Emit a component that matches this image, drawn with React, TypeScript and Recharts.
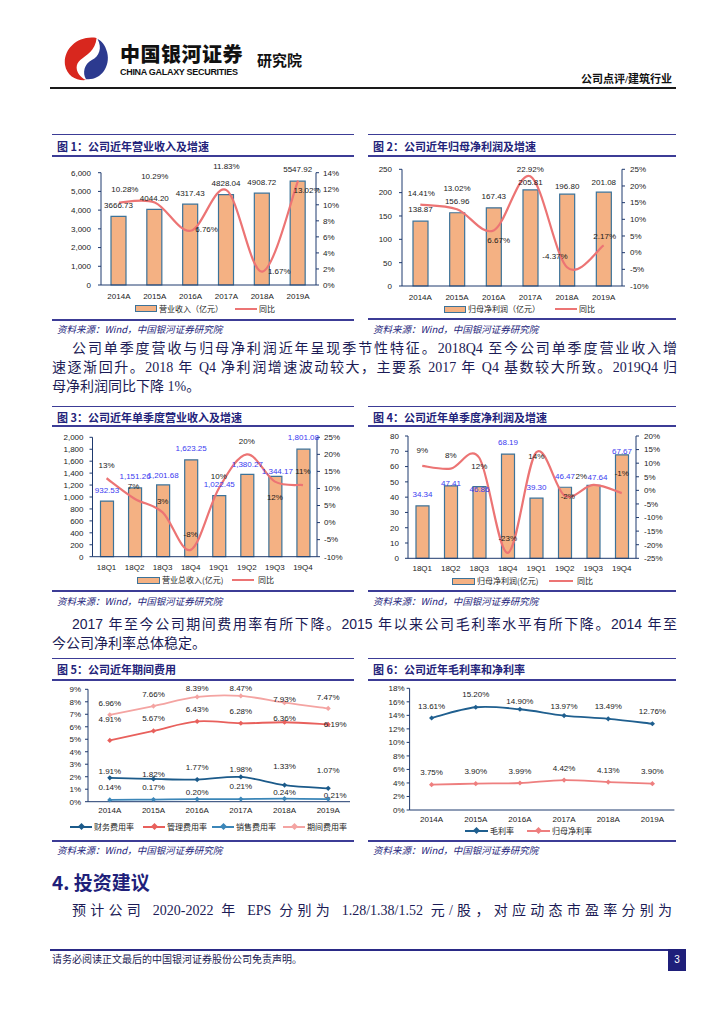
import React from 'react';
import { ComposedChart, LineChart, Bar, Line, XAxis, YAxis } from 'recharts';

// ---------- data ----------
const years = ['2014A', '2015A', '2016A', '2017A', '2018A', '2019A'];
const quarters = ['18Q1', '18Q2', '18Q3', '18Q4', '19Q1', '19Q2', '19Q3', '19Q4'];

const revenue = [3666.73, 4044.2, 4317.43, 4828.04, 4908.72, 5547.92];
const revenueYoy = [10.28, 10.29, 6.76, 11.83, 1.67, 13.02];
const netProfit = [138.87, 156.96, 167.43, 205.81, 196.8, 201.08];
const netProfitYoy = [14.41, 13.02, 6.67, 22.92, -4.37, 2.17];
const qRevenue = [932.53, 1151.26, 1201.68, 1623.25, 1022.45, 1380.27, 1344.17, 1801.08];
const qRevenueYoy = [13, 7, 3, -8, 10, 20, 12, 11];
const qProfit = [34.34, 47.41, 46.86, 68.19, 39.3, 46.47, 47.64, 67.67];
const qProfitYoy = [9, 8, 12, -23, 14, -2, 2, -1];
const finRate = [1.91, 1.82, 1.77, 1.98, 1.33, 1.07];
const adminRate = [4.91, 5.67, 6.43, 6.28, 6.36, 6.19];
const salesRate = [0.14, 0.17, 0.2, 0.21, 0.24, 0.21];
const periodRate = [6.96, 7.66, 8.39, 8.47, 7.93, 7.47];
const grossMargin = [13.61, 15.2, 14.9, 13.97, 13.49, 12.76];
const netMargin = [3.75, 3.9, 3.99, 4.42, 4.13, 3.9];

const ticks1L = [0, 1000, 2000, 3000, 4000, 5000, 6000];
const ticks1R = [0, 2, 4, 6, 8, 10, 12, 14];
const ticks2L = [0, 50, 100, 150, 200, 250];
const ticks2R = [-10, -5, 0, 5, 10, 15, 20, 25];
const ticks3L = [0, 200, 400, 600, 800, 1000, 1200, 1400, 1600, 1800, 2000];
const ticks3R = [-10, -5, 0, 5, 10, 15, 20, 25];
const ticks4L = [0, 10, 20, 30, 40, 50, 60, 70, 80];
const ticks4R = [-25, -20, -15, -10, -5, 0, 5, 10, 15, 20];
const ticks5 = [0, 1, 2, 3, 4, 5, 6, 7, 8, 9];
const ticks6 = [0, 2, 4, 6, 8, 10, 12, 14, 16, 18];

// ---------- label placement (styling) ----------
const off1Bar = [[0, -11], [0, -11], [0, -11], [0, -11], [0, -11], [0, -11.5]];
const off1Line = [[6, -13], [0, -26.5], [16, -2], [0, -24], [17, 0], [9, 10]];
const off2Bar = [[0, -11.5], [0, -11.5], [0, -11.5], [0, -8], [0, -7.5], [0, -10]];
const off2Line = [[1, -11], [0, -21], [5, 10], [0, -7], [-12, -11], [1, -9.5]];
const off3Bar = [[0, -11], [0, -11.5], [0, -10], [0, -11.5], [0, -11.5], [0, -10], [2, -5], [0, -11.5]];
const off3Line = [[0, -13], [-1, -12.5], [0, -11.5], [0, -15.5], [0, -12.5], [0, -13.5], [0, 16], [0, -13.5]];
const off4Bar = [[0, -11.5], [0, -3], [0, 2.5], [0, -11.5], [0, -11.5], [0, -11.5], [4, -8], [0, -4]];
const off4Line = [[0, -16], [0, -13], [0, 8], [0, -14.5], [0, 4], [3, 0], [-12, -9], [0, -20]];
const off5Period = [[0, -11.5], [0, -11.5], [0, -8.5], [0, -7.5], [0, -3.5], [0, -11.5]];
const off5Admin = [[0, -21], [0, -12.5], [0, -12], [0, -12], [0, -4], [7, 0]];
const off5Fin = [[0, -7], [0, -5], [0, -12], [0, -7.5], [0, -19], [0, -18]];
const off5Sales = [[0, -12.5], [0, -12.5], [0, -7.5], [0, -12.5], [0, -7], [7, -3.5]];
const off6Gross = [[0, -12], [0, -13], [0, -8], [0, -9.5], [0, -13], [0, -12.5]];
const off6Net = [[0, -12], [0, -12], [0, -12], [0, -12], [0, -12], [0, -12]];

// ---------- styles ----------
const SANS = '"Liberation Sans", Arial, "Noto Sans CJK SC", sans-serif';
const CJK = '"Noto Sans CJK SC", "Liberation Sans", sans-serif';
const SERIF = '"Liberation Serif", "Noto Sans CJK SC", serif';
const NAVY = '#23237a';
const RULE = '#3c3c96';
const AX = '#1f3a6e';
const BAR_FILL = '#F4B183';
const BAR_STROKE = '#3D7399';
const RED = '#EC7474';
const TXT = '#1b1b55';
const tickStyle = { fontSize: 8, fill: '#222', fontFamily: SANS };

// Excel-like smoothed line (Catmull-Rom bezier)
function excelCurve(context: any) {
  let pts: number[][] = [];
  return {
    areaStart() {},
    areaEnd() {},
    lineStart() {
      pts = [];
    },
    point(x: number, y: number) {
      pts.push([+x, +y]);
    },
    lineEnd() {
      const n = pts.length;
      if (!n) return;
      context.moveTo(pts[0][0], pts[0][1]);
      for (let i = 0; i < n - 1; i++) {
        const p0 = pts[Math.max(i - 1, 0)];
        const p1 = pts[i];
        const p2 = pts[i + 1];
        const p3 = pts[Math.min(i + 2, n - 1)];
        context.bezierCurveTo(
          p1[0] + (p2[0] - p0[0]) / 6,
          p1[1] + (p2[1] - p0[1]) / 6,
          p2[0] - (p3[0] - p1[0]) / 6,
          p2[1] - (p3[1] - p1[1]) / 6,
          p2[0],
          p2[1]
        );
      }
    },
  };
}

const mkLabel = (offs: number[][], fmt: (v: number) => string, color = '#1a1a1a') => (p: any) => {
  const vb = p.viewBox || {};
  const x = p.x ?? vb.x;
  const y = p.y ?? vb.y;
  const w = p.width ?? vb.width ?? 0;
  const idx = p.index ?? 0;
  const o = offs[idx] || [0, -11];
  return (
    <text
      key={`lb-${idx}`}
      x={x + w / 2 + o[0]}
      y={y + o[1]}
      dy="0.35em"
      textAnchor="middle"
      fontSize={8}
      fontFamily={SANS}
      fill={color}
    >
      {fmt(p.value)}
    </text>
  );
};

const fix2 = (v: number) => v.toFixed(2);
const comma2 = (v: number) => v.toLocaleString('en-US', { minimumFractionDigits: 2, maximumFractionDigits: 2 });
const pct2 = (v: number) => `${v.toFixed(2)}%`;
const pct0 = (v: number) => `${Math.round(v)}%`;
const commaInt = (v: number) => v.toLocaleString('en-US');

const diamond = (color: string) => (p: any) => (
  <path
    key={`dot-${p.index}`}
    d={`M${p.cx},${p.cy - 2.6}L${p.cx + 2.6},${p.cy}L${p.cx},${p.cy + 2.6}L${p.cx - 2.6},${p.cy}Z`}
    fill={color}
  />
);

// ---------- building blocks ----------
const Abs = ({ x, y, children, style }: any) => (
  <div style={{ position: 'absolute', left: x, top: y, ...style }}>{children}</div>
);

const Block = ({ x, w, top, titleY, underY, bottomY, sourceY, title }: any) => (
  <>
    <div style={{ position: 'absolute', left: x, top: top, width: w, height: 1.5, background: RULE }} />
    <div
      style={{
        position: 'absolute',
        left: x + 5,
        top: titleY - 8,
        height: 16,
        lineHeight: '16px',
        fontSize: 11,
        fontWeight: 700,
        color: NAVY,
        fontFamily: CJK,
        whiteSpace: 'nowrap',
      }}
    >
      {title}
    </div>
    <div style={{ position: 'absolute', left: x, top: underY, width: w, height: 2, background: RULE }} />
    <div style={{ position: 'absolute', left: x, top: bottomY, width: w, height: 2, background: RULE }} />
    <div
      style={{
        position: 'absolute',
        left: x + 5,
        top: sourceY - 7,
        height: 14,
        lineHeight: '14px',
        fontSize: 9.5,
        fontStyle: 'italic',
        color: NAVY,
        fontFamily: CJK,
        whiteSpace: 'nowrap',
      }}
    >
      资料来源：Wind，中国银河证券研究院
    </div>
  </>
);

const LegendItem = ({ kind, x, tx, y, w, color, label, marker }: any) => (
  <>
    {kind === 'bar' ? (
      <div
        style={{
          position: 'absolute',
          left: x,
          top: y - 3.5,
          width: w,
          height: 7,
          background: BAR_FILL,
          border: `1.2px solid ${BAR_STROKE}`,
          boxSizing: 'border-box',
        }}
      />
    ) : (
      <>
        <div style={{ position: 'absolute', left: x, top: y - 1, width: w, height: 2, background: color }} />
        {marker && (
          <div
            style={{
              position: 'absolute',
              left: x + w / 2 - 2.5,
              top: y - 2.5,
              width: 5,
              height: 5,
              background: color,
              transform: 'rotate(45deg)',
            }}
          />
        )}
      </>
    )}
    <div
      style={{
        position: 'absolute',
        left: tx,
        top: y - 6,
        height: 12,
        lineHeight: '12px',
        fontSize: 8,
        color: '#222',
        fontFamily: CJK,
        whiteSpace: 'nowrap',
      }}
    >
      {label}
    </div>
  </>
);

const JLine = ({ x, y, w, text, font, size = 14, justify = true, color = TXT }: any) => (
  <div
    style={{
      position: 'absolute',
      left: x,
      top: y - 10,
      width: w,
      height: 20,
      lineHeight: '20px',
      fontSize: size,
      fontFamily: font,
      color,
      textAlign: justify ? 'justify' : 'left',
      textAlignLast: justify ? 'justify' : 'left',
      textJustify: 'inter-character',
      whiteSpace: 'nowrap',
    } as any}
  >
    {text}
  </div>
);

const yAxisCommon = {
  axisLine: { stroke: AX, strokeWidth: 1 },
  tickLine: { stroke: AX },
  tick: tickStyle,
  tickSize: 3,
  interval: 0 as const,
};

// ---------- charts ----------
function Chart1() {
  const data = years.map((c, i) => ({ cat: c, v: revenue[i], yoy: revenueYoy[i] }));
  return (
    <ComposedChart width={300} height={150} data={data} margin={{ top: 12.7, right: 0, bottom: 0, left: 0 }}>
      <XAxis dataKey="cat" height={25} axisLine={{ stroke: AX }} tickLine={false} tick={tickStyle} tickSize={4} tickMargin={4} interval={0} />
      <YAxis yAxisId="l" width={49} domain={[0, 6000]} ticks={ticks1L} tickFormatter={commaInt} tickMargin={7} {...yAxisCommon} />
      <YAxis yAxisId="r" orientation="right" width={36} domain={[0, 14]} ticks={ticks1R} tickFormatter={(v: number) => `${v}%`} tickMargin={4} {...yAxisCommon} />
      <Bar yAxisId="l" dataKey="v" barSize={15} fill={BAR_FILL} stroke={BAR_STROKE} strokeWidth={1.2} isAnimationActive={false} label={mkLabel(off1Bar, fix2)} />
      <Line yAxisId="r" dataKey="yoy" type={excelCurve as any} stroke={RED} strokeWidth={2.2} dot={false} activeDot={false} isAnimationActive={false} label={mkLabel(off1Line, pct2)} />
    </ComposedChart>
  );
}

function Chart2() {
  const data = years.map((c, i) => ({ cat: c, v: netProfit[i], yoy: netProfitYoy[i] }));
  return (
    <ComposedChart width={300} height={151} data={data} margin={{ top: 9.3, right: 0, bottom: 0, left: 0 }}>
      <XAxis dataKey="cat" height={25} axisLine={{ stroke: AX }} tickLine={false} tick={tickStyle} tickSize={4} tickMargin={4} interval={0} />
      <YAxis yAxisId="l" width={34} domain={[0, 250]} ticks={ticks2L} tickMargin={7} {...yAxisCommon} />
      <YAxis yAxisId="r" orientation="right" width={46} domain={[-10, 25]} ticks={ticks2R} tickFormatter={(v: number) => `${v}%`} tickMargin={5} {...yAxisCommon} />
      <Bar yAxisId="l" dataKey="v" barSize={15} fill={BAR_FILL} stroke={BAR_STROKE} strokeWidth={1.2} isAnimationActive={false} label={mkLabel(off2Bar, fix2)} />
      <Line yAxisId="r" dataKey="yoy" type={excelCurve as any} stroke={RED} strokeWidth={2.2} dot={false} activeDot={false} isAnimationActive={false} label={mkLabel(off2Line, pct2)} />
    </ComposedChart>
  );
}

function Chart3() {
  const data = quarters.map((c, i) => ({ cat: c, v: qRevenue[i], yoy: qRevenueYoy[i] }));
  return (
    <ComposedChart width={300} height={155} data={data} margin={{ top: 10.3, right: 0, bottom: 0, left: 0 }}>
      <XAxis dataKey="cat" height={25.3} axisLine={{ stroke: AX }} tickLine={false} tick={tickStyle} tickSize={4} tickMargin={4} interval={0} />
      <YAxis yAxisId="l" width={40.5} domain={[0, 2000]} ticks={ticks3L} tickFormatter={commaInt} tickMargin={6} {...yAxisCommon} />
      <YAxis yAxisId="r" orientation="right" width={35} domain={[-10, 25]} ticks={ticks3R} tickFormatter={(v: number) => `${v}%`} tickMargin={4} {...yAxisCommon} />
      <Bar yAxisId="l" dataKey="v" barSize={13} fill={BAR_FILL} stroke={BAR_STROKE} strokeWidth={1.2} isAnimationActive={false} label={mkLabel(off3Bar, comma2, '#3a3af0')} />
      <Line yAxisId="r" dataKey="yoy" type={excelCurve as any} stroke={RED} strokeWidth={2.2} dot={false} activeDot={false} isAnimationActive={false} label={mkLabel(off3Line, pct0)} />
    </ComposedChart>
  );
}

function Chart4() {
  const data = quarters.map((c, i) => ({ cat: c, v: qProfit[i], yoy: qProfitYoy[i] }));
  return (
    <ComposedChart width={306} height={156} data={data} margin={{ top: 9, right: 0, bottom: 0, left: 0 }}>
      <XAxis dataKey="cat" height={24.7} axisLine={{ stroke: AX }} tickLine={false} tick={tickStyle} tickSize={4} tickMargin={3} interval={0} />
      <YAxis yAxisId="l" width={40} domain={[0, 80]} ticks={ticks4L} tickMargin={6} {...yAxisCommon} />
      <YAxis yAxisId="r" orientation="right" width={38} domain={[-25, 20]} ticks={ticks4R} tickFormatter={(v: number) => `${v}%`} tickMargin={5} {...yAxisCommon} />
      <Bar yAxisId="l" dataKey="v" barSize={13} fill={BAR_FILL} stroke={BAR_STROKE} strokeWidth={1.2} isAnimationActive={false} label={mkLabel(off4Bar, fix2, '#3a3af0')} />
      <Line yAxisId="r" dataKey="yoy" type={excelCurve as any} stroke={RED} strokeWidth={2.2} dot={false} activeDot={false} isAnimationActive={false} label={mkLabel(off4Line, pct0)} />
    </ComposedChart>
  );
}

const C_FIN = '#1b5a8a';
const C_ADMIN = '#e8605c';
const C_SALES = '#3b86b8';
const C_PERIOD = '#f4a4a2';
const C_GROSS = '#1f5f8f';
const C_NET = '#ee7f7f';

function Chart5() {
  const data = years.map((c, i) => ({ cat: c, fin: finRate[i], admin: adminRate[i], sales: salesRate[i], period: periodRate[i] }));
  const series = [
    { k: 'period', c: C_PERIOD, o: off5Period },
    { k: 'admin', c: C_ADMIN, o: off5Admin },
    { k: 'fin', c: C_FIN, o: off5Fin },
    { k: 'sales', c: C_SALES, o: off5Sales },
  ];
  return (
    <LineChart width={300} height={142} data={data} margin={{ top: 9.3, right: 2, bottom: 0, left: 0 }}>
      <XAxis dataKey="cat" height={20.3} padding={{ left: 21.8, right: 21.8 }} axisLine={{ stroke: AX }} tickLine={false} tick={tickStyle} tickSize={3} tickMargin={3} interval={0} />
      <YAxis width={36} domain={[0, 9]} ticks={ticks5} tickFormatter={(v: number) => `${v}%`} tickMargin={4} {...yAxisCommon} />
      {series.map((s) => (
        <Line key={s.k} dataKey={s.k} type={excelCurve as any} stroke={s.c} strokeWidth={1.8} dot={diamond(s.c)} activeDot={false} isAnimationActive={false} label={mkLabel(s.o, pct2)} />
      ))}
    </LineChart>
  );
}

function Chart6() {
  const data = years.map((c, i) => ({ cat: c, gross: grossMargin[i], net: netMargin[i] }));
  return (
    <LineChart width={308} height={150} data={data} margin={{ top: 8.3, right: 1.6, bottom: 0, left: 0 }}>
      <XAxis dataKey="cat" height={20} padding={{ left: 22, right: 22 }} axisLine={{ stroke: AX }} tickLine={false} tick={tickStyle} tickSize={3} tickMargin={3} interval={0} />
      <YAxis width={41.6} domain={[0, 18]} ticks={ticks6} tickFormatter={(v: number) => `${v}%`} tickMargin={2} {...yAxisCommon} />
      <Line dataKey="gross" type={excelCurve as any} stroke={C_GROSS} strokeWidth={1.8} dot={diamond(C_GROSS)} activeDot={false} isAnimationActive={false} label={mkLabel(off6Gross, pct2)} />
      <Line dataKey="net" type={excelCurve as any} stroke={C_NET} strokeWidth={1.8} dot={diamond(C_NET)} activeDot={false} isAnimationActive={false} label={mkLabel(off6Net, pct2)} />
    </LineChart>
  );
}

function Logo() {
  return (
    <svg width={50} height={46} viewBox="0 0 52 48" style={{ position: 'absolute', left: 62, top: 36 }}>
      <path d="M36 2 C16 -1 1 14 3 30 C5 42 15 47 25 46 C15 41 12 31 19 25 C25 20 35 15 36 2 Z" fill="#d8271e" />
      <path d="M25 45 C39 47 51 33 47 17 C45 9 41 5 37 3 C42 12 39 21 31 25 C23 29 21 39 25 45 Z" fill="#2c3a8f" />
    </svg>
  );
}

export default function App() {
  return (
    <div
      style={{
        position: 'absolute',
        left: 0,
        top: 0,
        width: 724,
        height: 1024,
        background: '#fff',
        overflow: 'hidden',
      }}
    >
      {/* header */}
      <Logo />
      <Abs x={120} y={42} style={{ fontFamily: CJK, fontWeight: 900, fontSize: 20, lineHeight: '24px', color: '#111', whiteSpace: 'nowrap', letterSpacing: 0.5 }}>
        中国银河证券
      </Abs>
      <Abs x={120} y={66} style={{ fontFamily: SANS, fontWeight: 700, fontSize: 9, lineHeight: '12px', color: '#111', whiteSpace: 'nowrap', letterSpacing: -0.3 }}>
        CHINA GALAXY SECURITIES
      </Abs>
      <Abs x={257} y={51} style={{ fontFamily: CJK, fontWeight: 700, fontSize: 15, lineHeight: '18px', color: '#111', whiteSpace: 'nowrap' }}>
        研究院
      </Abs>
      <Abs x={520} y={72} style={{ width: 152, textAlign: 'right', fontFamily: SERIF, fontWeight: 700, fontSize: 11, lineHeight: '14px', color: '#111', whiteSpace: 'nowrap' }}>
        公司点评/建筑行业
      </Abs>
      <div style={{ position: 'absolute', left: 50, top: 87, width: 626, height: 2, background: '#1a1a1a' }} />

      {/* row 1 */}
      <Block x={52} w={302} top={133.5} titleY={146} underY={155} bottomY={318.5} sourceY={329} title="图 1：公司近年营业收入及增速" />
      <Block x={368} w={308} top={133.5} titleY={146} underY={155} bottomY={318} sourceY={329} title="图 2：公司近年归母净利润及增速" />
      <Abs x={52} y={160}><Chart1 /></Abs>
      <Abs x={368} y={160}><Chart2 /></Abs>
      <LegendItem kind="bar" x={135} w={22} tx={159} y={308.5} label="营业收入（亿元）" />
      <LegendItem kind="line" x={235} w={22} tx={259} y={308.5} color={RED} label="同比" />
      <LegendItem kind="bar" x={444} w={22} tx={468} y={309} label="归母净利润（亿元）" />
      <LegendItem kind="line" x={555} w={22} tx={579} y={309} color={RED} label="同比" />

      {/* paragraph 1 */}
      <JLine x={72} y={349} w={605} font={SERIF} text="公司单季度营收与归母净利润近年呈现季节性特征。2018Q4 至今公司单季度营业收入增" />
      <JLine x={52} y={368} w={625} font={SERIF} text="速逐渐回升。2018 年 Q4 净利润增速波动较大，主要系 2017 年 Q4 基数较大所致。2019Q4 归" />
      <JLine x={52} y={387} w={625} font={SERIF} justify={false} text="母净利润同比下降 1%。" />

      {/* row 2 */}
      <Block x={52} w={302} top={405.5} titleY={417} underY={425} bottomY={590} sourceY={601} title="图 3：公司近年单季度营业收入及增速" />
      <Block x={368} w={308} top={405.5} titleY={417} underY={425} bottomY={590} sourceY={601} title="图 4：公司近年单季度净利润及增速" />
      <Abs x={52} y={427}><Chart3 /></Abs>
      <Abs x={368} y={427}><Chart4 /></Abs>
      <LegendItem kind="bar" x={137} w={23} tx={162} y={580} label="营业总收入(亿元)" />
      <LegendItem kind="line" x={232} w={22} tx={258} y={580} color={RED} label="同比" />
      <LegendItem kind="bar" x={452} w={23} tx={477} y={581} label="归母净利润(亿元)" />
      <LegendItem kind="line" x={549} w={24} tx={577} y={581} color={RED} label="同比" />

      {/* paragraph 2 */}
      <JLine x={72} y={624} w={605} font={SANS} text="2017 年至今公司期间费用率有所下降。2015 年以来公司毛利率水平有所下降。2014 年至" />
      <JLine x={52} y={643} w={625} font={SANS} justify={false} text="今公司净利率总体稳定。" />

      {/* row 3 */}
      <Block x={52} w={302} top={657.5} titleY={669} underY={678.5} bottomY={839.5} sourceY={850} title="图 5：公司近年期间费用" />
      <Block x={368} w={308} top={657.5} titleY={669} underY={678.5} bottomY={839.5} sourceY={850} title="图 6：公司近年毛利率和净利率" />
      <Abs x={52} y={680}><Chart5 /></Abs>
      <Abs x={368} y={680}><Chart6 /></Abs>
      <LegendItem kind="line" marker x={70} w={22} tx={94} y={826.5} color={C_FIN} label="财务费用率" />
      <LegendItem kind="line" marker x={143} w={22} tx={167} y={826.5} color={C_ADMIN} label="管理费用率" />
      <LegendItem kind="line" marker x={212} w={22} tx={236} y={826.5} color={C_SALES} label="销售费用率" />
      <LegendItem kind="line" marker x={283} w={22} tx={307} y={826.5} color={C_PERIOD} label="期间费用率" />
      <LegendItem kind="line" marker x={465} w={23} tx={490} y={830.5} color={C_GROSS} label="毛利率" />
      <LegendItem kind="line" marker x={527} w={23} tx={552} y={830.5} color={C_NET} label="归母净利率" />

      {/* section 4 */}
      <Abs x={52} y={869} style={{ fontFamily: CJK, fontWeight: 700, fontSize: 19, lineHeight: '26px', color: '#1f1f7a', whiteSpace: 'nowrap' }}>
        4. 投资建议
      </Abs>
      <JLine x={72} y={911} w={600} font={SERIF} text="预计公司 2020-2022 年 EPS 分别为 1.28/1.38/1.52 元/股，对应动态市盈率分别为" />

      {/* footer */}
      <div style={{ position: 'absolute', left: 50, top: 949, width: 618, height: 2, background: '#2a2a86' }} />
      <Abs x={52} y={953} style={{ fontFamily: SERIF, fontSize: 10, lineHeight: '14px', color: TXT, whiteSpace: 'nowrap' }}>
        请务必阅读正文最后的中国银河证券股份公司免责声明。
      </Abs>
      <div
        style={{
          position: 'absolute',
          left: 668,
          top: 949,
          width: 18,
          height: 22,
          background: '#1f1f7a',
          color: '#fff',
          fontFamily: SANS,
          fontSize: 10,
          lineHeight: '22px',
          textAlign: 'center',
        }}
      >
        3
      </div>
    </div>
  );
}
